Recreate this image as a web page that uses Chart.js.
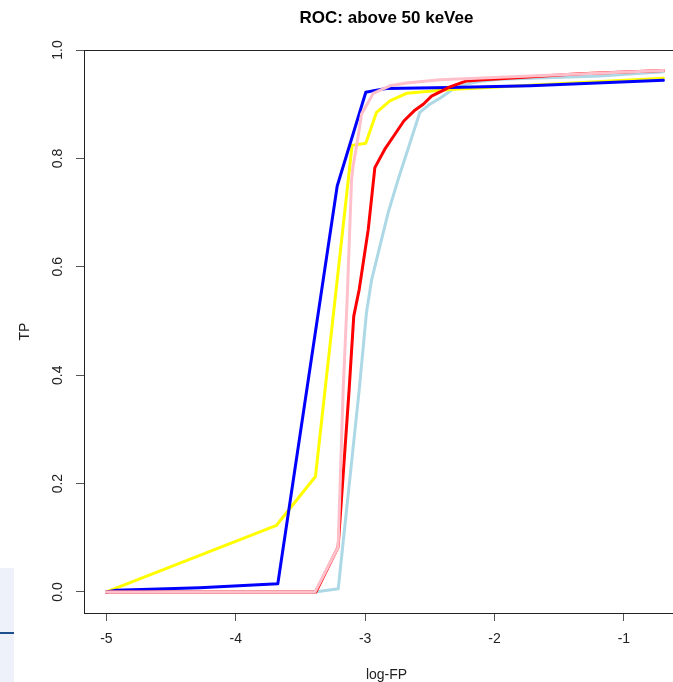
<!DOCTYPE html>
<html lang="en">
<head>
    <meta charset="UTF-8">
    <title>ROC: above 50 keVee</title>
    <script src="https://cdn.jsdelivr.net/npm/chart.js"></script>
    <style>
        body {
            margin: 0;
            padding: 0;
            background: #ffffff;
            overflow: hidden;
        }

        /* plot canvas is a bit wider than the window, the right edge of the box falls off */
        #rocChart {
            position: absolute;
            left: 0;
            top: 0;
        }

        /* strip of the neighbouring panel at the lower left */
        .side-panel {
            position: absolute;
            left: 0;
            top: 568px;
            width: 14px;
            height: 114px;
            background: #eef1fa;
        }

        .side-panel .rule {
            position: absolute;
            left: 0;
            top: 64px;
            width: 14px;
            height: 2px;
            background: #1f4e8c;
        }
    </style>
</head>
<body>

    <div class="side-panel"><div class="rule"></div></div>
    <canvas id="rocChart" width="720" height="682"></canvas>

    <script>
        const titleText = "ROC: above 50 keVee";
        const xTicks = [-5, -4, -3, -2, -1];
        const yTicks = [0, 0.2, 0.4, 0.6, 0.8, 1.0];

        // log10 false positive rate / true positive rate for each curve
        const blueX = [-5, -4.923, -4.278, -3.675, -3.216, -2.995, -2.912, -2.835, -2.345, -1.725, -0.695];
        const blueY = [0, 0.003, 0.008, 0.015, 0.749, 0.922, 0.926, 0.929, 0.931, 0.934, 0.944];

        const yellowX = [-5, -3.685, -3.384, -3.101, -2.995, -2.912, -2.809, -2.680, -2.345, -1.725, -0.695];
        const yellowY = [0, 0.123, 0.213, 0.824, 0.828, 0.885, 0.906, 0.920, 0.927, 0.935, 0.948];

        const pinkX = [-5, -3.388, -3.209, -3.170, -3.139, -3.105, -3.093, -3.054, -3.028, -2.977, -2.938, -2.809, -2.680, -2.422, -1.726, -0.695];
        const pinkY = [0, 0, 0.083, 0.373, 0.540, 0.761, 0.786, 0.841, 0.882, 0.903, 0.920, 0.934, 0.939, 0.945, 0.952, 0.962];

        const redX = [-5, -3.381, -3.209, -3.124, -3.088, -3.046, -2.976, -2.925, -2.848, -2.783, -2.701, -2.616, -2.551, -2.487, -2.409, -2.345, -2.216, -2.087, -1.958, -1.340, -0.695];
        const redY = [0, 0, 0.083, 0.373, 0.509, 0.558, 0.669, 0.783, 0.817, 0.840, 0.869, 0.889, 0.900, 0.915, 0.924, 0.932, 0.943, 0.945, 0.947, 0.956, 0.962];

        const lightblueX = [-5, -3.388, -3.208, -3.046, -2.990, -2.950, -2.886, -2.822, -2.745, -2.577, -2.500, -2.422, -2.319, -2.216, -2.087, -1.958, -1.185, -0.695];
        const lightblueY = [0, 0, 0.006, 0.373, 0.515, 0.576, 0.638, 0.700, 0.761, 0.885, 0.900, 0.911, 0.928, 0.937, 0.943, 0.946, 0.952, 0.960];

        function toPoints(xs, ys) {
            return xs.map((x, i) => ({ x: x, y: ys[i] }));
        }

        function curve(xs, ys, color) {
            return {
                data: toPoints(xs, ys),
                borderColor: color,
                borderWidth: 3,
                pointRadius: 0,
                tension: 0,
                fill: false,
                borderJoinStyle: "round",
                borderCapStyle: "round"
            };
        }

        // box round the plot region plus the main title over it (R style)
        const plotFrame = {
            id: "plotFrame",
            beforeDatasetsDraw(chart) {
                const { ctx, chartArea } = chart;
                ctx.save();
                ctx.strokeStyle = "#222";
                ctx.lineWidth = 1;
                ctx.strokeRect(chartArea.left + 0.5, chartArea.top + 0.5,
                    chartArea.right - chartArea.left, chartArea.bottom - chartArea.top);
                ctx.restore();
            },
            afterDraw(chart) {
                const { ctx, chartArea } = chart;
                ctx.save();
                ctx.font = "bold 17px 'Liberation Sans', Arial, sans-serif";
                ctx.fillStyle = "#000";
                ctx.textAlign = "center";
                ctx.textBaseline = "middle";
                ctx.fillText(titleText, (chartArea.left + chartArea.right) / 2, 18);
                ctx.restore();
            }
        };

        const tickFont = { family: "'Liberation Sans', Arial, sans-serif", size: 14 };

        new Chart(document.getElementById("rocChart"), {
            type: "line",
            data: {
                // first dataset is painted last (on top)
                datasets: [
                    curve(pinkX, pinkY, "#FFC0CB"),
                    curve(redX, redY, "#FF0000"),
                    curve(blueX, blueY, "#0000FF"),
                    curve(yellowX, yellowY, "#FFFF00"),
                    curve(lightblueX, lightblueY, "#ADD8E6")
                ]
            },
            options: {
                responsive: false,
                animation: false,
                layout: { padding: { left: 0, top: 50, right: 31, bottom: 0 } },
                plugins: {
                    legend: { display: false },
                    tooltip: { enabled: false },
                    title: { display: false }
                },
                scales: {
                    x: {
                        type: "linear",
                        min: -5.173,
                        max: -0.497,
                        afterBuildTicks: (scale) => { scale.ticks = xTicks.map(v => ({ value: v })); },
                        afterFit: (scale) => { scale.height = 69; },
                        border: { display: false },
                        grid: { drawOnChartArea: false, drawTicks: true, tickLength: 8, color: "#555" },
                        ticks: {
                            font: tickFont,
                            color: "#222",
                            padding: 10,
                            maxRotation: 0,
                            callback: (v) => String(v)
                        },
                        title: {
                            display: true,
                            text: "log-FP",
                            font: { family: tickFont.family, size: 14, lineHeight: 1 },
                            color: "#222",
                            padding: { top: 0, bottom: 0 }
                        }
                    },
                    y: {
                        type: "linear",
                        min: -0.0388,
                        max: 1.0,
                        afterBuildTicks: (scale) => { scale.ticks = yTicks.map(v => ({ value: v })); },
                        afterFit: (scale) => { scale.width = 84; },
                        border: { display: false },
                        grid: { drawOnChartArea: false, drawTicks: true, tickLength: 8, color: "#555" },
                        ticks: {
                            font: tickFont,
                            color: "#222",
                            padding: 8,
                            minRotation: 90,
                            maxRotation: 90,
                            crossAlign: "center",
                            callback: (v) => Number(v).toFixed(1)
                        },
                        title: {
                            display: true,
                            text: "TP",
                            font: { family: tickFont.family, size: 14 },
                            color: "#222",
                            padding: { top: 17, bottom: 0 }
                        }
                    }
                }
            },
            plugins: [plotFrame]
        });
    </script>

</body>
</html>
